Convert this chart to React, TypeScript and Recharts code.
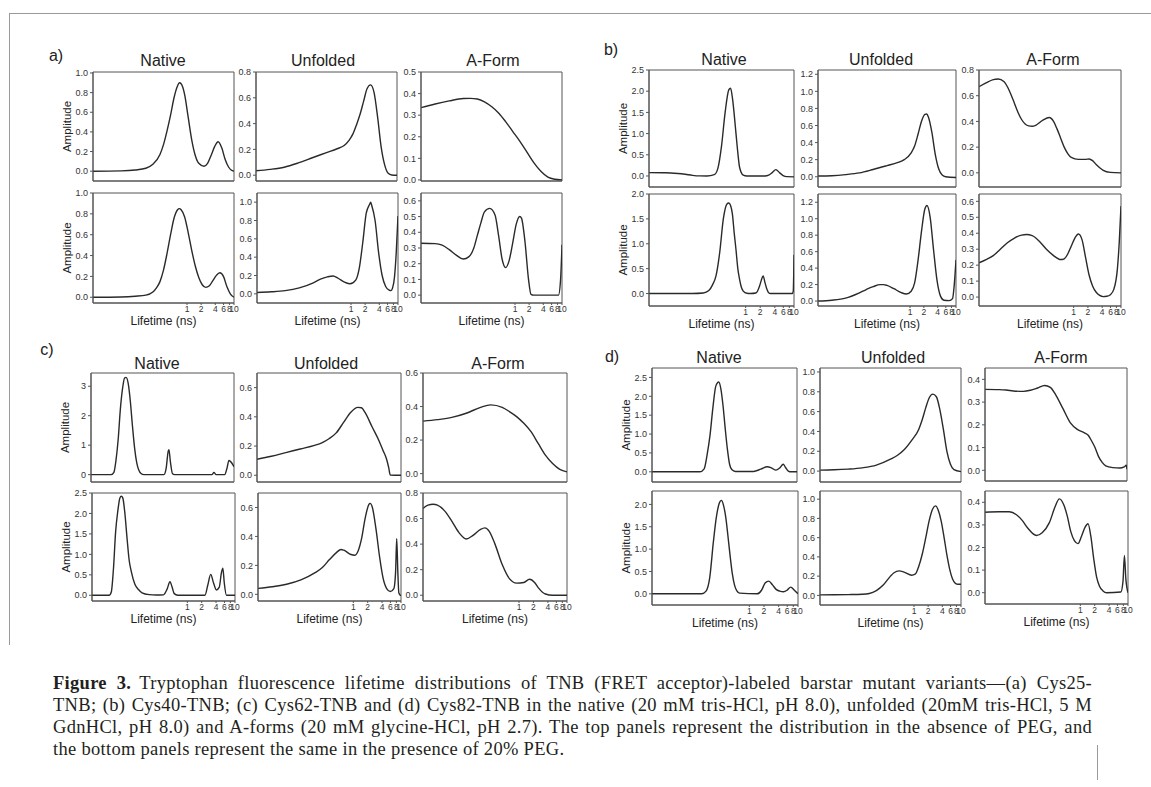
import React from 'react';
import { LineChart, Line, XAxis, YAxis, ReferenceArea, Label } from 'recharts';

type Pt = [number, number]; // [lifetime (ns), amplitude]

// ---- a) Cys25-TNB ----
const aNativeTop: Pt[] = [
  [0.01, 0], [0.0398, 0.003], [0.0794, 0.012], [0.133, 0.03], [0.188, 0.07], [0.266, 0.17],
  [0.316, 0.27], [0.376, 0.41], [0.447, 0.57], [0.531, 0.75], [0.631, 0.87], [0.688, 0.9],
  [0.75, 0.89], [0.891, 0.78], [1.06, 0.55], [1.26, 0.32], [1.5, 0.16], [1.78, 0.08],
  [2.3, 0.05], [2.74, 0.08], [3.25, 0.16], [3.87, 0.25], [4.6, 0.3], [5.46, 0.24],
  [6.49, 0.12], [7.72, 0.04], [9.17, 0.005], [10, 0],
];
const aUnfoldedTop: Pt[] = [
  [0.01, 0.034], [0.02, 0.045], [0.0398, 0.062], [0.0794, 0.095], [0.158, 0.135], [0.316, 0.175],
  [0.531, 0.205], [0.75, 0.23], [0.955, 0.27], [1.155, 0.32], [1.373, 0.39], [1.631, 0.47],
  [1.939, 0.57], [2.304, 0.67], [2.738, 0.7], [3.254, 0.64], [3.868, 0.45], [4.597, 0.22],
  [5.464, 0.08], [6.494, 0.015], [7.718, 0.002], [10, 0],
];
const aAFormTop: Pt[] = [
  [0.01, 0.335], [0.02, 0.352], [0.0398, 0.366], [0.0794, 0.377], [0.112, 0.378], [0.158, 0.375],
  [0.224, 0.362], [0.316, 0.34], [0.447, 0.31], [0.631, 0.27], [0.891, 0.225], [1.26, 0.18],
  [1.78, 0.13], [2.51, 0.08], [3.55, 0.04], [5.01, 0.013], [7.08, 0.003], [10, 0],
];
const aNativeBottom: Pt[] = [
  [0.01, 0], [0.0398, 0.003], [0.0794, 0.01], [0.133, 0.02], [0.188, 0.05], [0.224, 0.09],
  [0.266, 0.15], [0.316, 0.26], [0.376, 0.42], [0.447, 0.6], [0.531, 0.76], [0.631, 0.84],
  [0.688, 0.85], [0.75, 0.84], [0.891, 0.77], [1.06, 0.62], [1.26, 0.45], [1.5, 0.3],
  [1.78, 0.19], [2.11, 0.12], [2.51, 0.095], [2.99, 0.11], [3.55, 0.16], [4.22, 0.21],
  [5.01, 0.235], [5.96, 0.2], [7.08, 0.1], [8.41, 0.03], [10, 0],
];
const aUnfoldedBottom: Pt[] = [
  [0.01, 0.015], [0.02, 0.022], [0.0398, 0.035], [0.0794, 0.065], [0.158, 0.12], [0.224, 0.16],
  [0.316, 0.185], [0.417, 0.195], [0.531, 0.17], [0.75, 0.125], [0.955, 0.11], [1.26, 0.15],
  [1.5, 0.28], [1.78, 0.56], [2.11, 0.88], [2.51, 0.98], [2.62, 1.0], [2.74, 0.97],
  [3.254, 0.8], [3.868, 0.45], [4.597, 0.2], [5.464, 0.08], [6.494, 0.04], [7.08, 0.035],
  [7.718, 0.07], [8.41, 0.18], [9.173, 0.45], [10, 0.85],
];
const aAFormBottom: Pt[] = [
  [0.01, 0.33], [0.02, 0.328], [0.0282, 0.318], [0.0398, 0.29], [0.0562, 0.255], [0.0794, 0.23],
  [0.105, 0.245], [0.133, 0.3], [0.158, 0.38], [0.188, 0.46], [0.224, 0.53], [0.29, 0.552],
  [0.376, 0.51], [0.447, 0.38], [0.531, 0.23], [0.631, 0.175], [0.75, 0.22], [0.891, 0.33],
  [1.06, 0.45], [1.26, 0.5], [1.373, 0.49], [1.631, 0.34], [1.939, 0.1], [2.19, 0.005],
  [2.51, 0], [8.41, 0], [9.33, 0.1], [10, 0.32],
];

// ---- b) Cys40-TNB ----
const bNativeTop: Pt[] = [
  [0.01, 0.078], [0.02, 0.075], [0.0282, 0.072], [0.0398, 0.06], [0.0562, 0.04], [0.0794, 0.015],
  [0.112, 0.002], [0.158, 0], [0.224, 0.03], [0.266, 0.18], [0.316, 0.7], [0.376, 1.5],
  [0.447, 2.03], [0.487, 2.07], [0.531, 1.85], [0.631, 1.0], [0.688, 0.55], [0.75, 0.2],
  [0.891, 0.02], [1.06, 0], [2.51, 0], [2.99, 0.02], [3.55, 0.08], [4.22, 0.15],
  [5.01, 0.08], [5.96, 0.01], [7.08, -0.015], [10, -0.02],
];
const bUnfoldedTop: Pt[] = [
  [0.01, 0.008], [0.02, 0.012], [0.0398, 0.025], [0.0794, 0.045], [0.158, 0.085], [0.316, 0.13],
  [0.531, 0.165], [0.75, 0.2], [1.06, 0.28], [1.26, 0.36], [1.5, 0.5], [1.78, 0.65],
  [2.11, 0.73], [2.3, 0.735], [2.51, 0.7], [2.99, 0.52], [3.55, 0.26], [4.22, 0.09],
  [5.01, 0.02], [5.96, 0], [10, -0.008],
];
const bAFormTop: Pt[] = [
  [0.01, 0.67], [0.0141, 0.7], [0.02, 0.725], [0.0254, 0.73], [0.0335, 0.71], [0.0398, 0.67],
  [0.0473, 0.61], [0.0562, 0.54], [0.0668, 0.47], [0.0794, 0.415], [0.0944, 0.38], [0.112, 0.365],
  [0.133, 0.362], [0.158, 0.37], [0.224, 0.41], [0.305, 0.43], [0.376, 0.4], [0.447, 0.34],
  [0.531, 0.27], [0.631, 0.2], [0.75, 0.15], [0.891, 0.12], [1.26, 0.105], [1.78, 0.105],
  [2.11, 0.108], [2.51, 0.095], [2.99, 0.065], [3.55, 0.04], [4.22, 0.02], [5.96, 0.004], [10, 0],
];
const bNativeBottom: Pt[] = [
  [0.01, 0], [0.0794, 0], [0.133, 0.01], [0.173, 0.06], [0.205, 0.17], [0.244, 0.36],
  [0.29, 0.82], [0.345, 1.5], [0.41, 1.8], [0.447, 1.82], [0.487, 1.77], [0.531, 1.6],
  [0.579, 1.22], [0.631, 0.88], [0.688, 0.5], [0.75, 0.28], [0.818, 0.12], [0.891, 0.05],
  [1.06, 0.005], [1.26, 0], [1.631, 0.01], [1.939, 0.15], [2.11, 0.27], [2.3, 0.355],
  [2.51, 0.22], [2.74, 0.09], [2.99, 0.015], [3.25, 0], [9.17, 0], [9.66, 0.05], [10, 0.78],
];
const bUnfoldedBottom: Pt[] = [
  [0.01, 0], [0.02, 0.01], [0.0398, 0.035], [0.0794, 0.1], [0.112, 0.14], [0.158, 0.175],
  [0.224, 0.2], [0.266, 0.2], [0.316, 0.19], [0.447, 0.15], [0.631, 0.105], [0.832, 0.085],
  [1.06, 0.12], [1.26, 0.22], [1.5, 0.5], [1.78, 0.85], [2.11, 1.12], [2.34, 1.16],
  [2.738, 1.02], [3.254, 0.62], [3.868, 0.25], [4.597, 0.06], [5.464, 0.01], [7.08, 0.005],
  [8.41, 0.03], [9.173, 0.2], [10, 0.5],
];
const bAFormBottom: Pt[] = [
  [0.01, 0.215], [0.0141, 0.235], [0.02, 0.26], [0.0282, 0.3], [0.0398, 0.34], [0.0562, 0.37],
  [0.0794, 0.388], [0.101, 0.392], [0.133, 0.385], [0.188, 0.35], [0.266, 0.3], [0.376, 0.26],
  [0.531, 0.235], [0.631, 0.24], [0.75, 0.27], [0.891, 0.32], [1.06, 0.37], [1.26, 0.395],
  [1.5, 0.36], [1.78, 0.25], [2.11, 0.14], [2.51, 0.07], [2.99, 0.03], [3.55, 0.01],
  [4.22, 0.003], [5.01, 0.005], [5.96, 0.015], [7.08, 0.05], [8.41, 0.18], [9.173, 0.34], [10, 0.57],
];

// ---- c) Cys62-TNB ----
const cNativeTop: Pt[] = [
  [0.01, 0], [0.0263, 0], [0.0302, 0.08], [0.0335, 0.5], [0.0372, 1.2], [0.0412, 2.2],
  [0.0457, 2.9], [0.0507, 3.28], [0.0543, 3.3], [0.0603, 3.1], [0.0668, 2.5], [0.0741, 1.65],
  [0.0822, 0.9], [0.0912, 0.4], [0.101, 0.15], [0.112, 0.04], [0.129, 0], [0.339, 0],
  [0.376, 0.2], [0.417, 0.8], [0.432, 0.85], [0.462, 0.45], [0.513, 0.03], [0.569, 0],
  [3.43, 0], [3.8, 0.07], [4.22, 0], [6.38, 0], [7.08, 0.2], [7.85, 0.48], [8.41, 0.45], [10, 0.27],
];
const cUnfoldedTop: Pt[] = [
  [0.01, 0.11], [0.02, 0.13], [0.0398, 0.155], [0.0794, 0.18], [0.158, 0.205], [0.224, 0.222],
  [0.316, 0.25], [0.447, 0.29], [0.631, 0.36], [0.891, 0.43], [1.26, 0.465], [1.5, 0.462],
  [1.78, 0.43], [2.51, 0.33], [3.55, 0.23], [4.22, 0.17], [5.01, 0.11], [5.56, 0.05],
  [5.96, 0.002], [10, 0],
];
const cAFormTop: Pt[] = [
  [0.01, 0.313], [0.02, 0.322], [0.0398, 0.335], [0.0794, 0.36], [0.158, 0.395], [0.257, 0.41],
  [0.447, 0.395], [0.631, 0.37], [0.891, 0.34], [1.26, 0.3], [1.78, 0.25], [2.51, 0.18],
  [3.55, 0.11], [5.01, 0.06], [7.08, 0.025], [10, 0.01],
];
const cNativeBottom: Pt[] = [
  [0.01, 0], [0.0229, 0], [0.0254, 0.08], [0.0282, 0.65], [0.0313, 1.55], [0.0347, 2.05],
  [0.0385, 2.38], [0.0412, 2.42], [0.0442, 2.38], [0.049, 2.0], [0.0543, 1.4], [0.0603, 0.85],
  [0.0668, 0.58], [0.0794, 0.27], [0.0944, 0.14], [0.112, 0.06], [0.158, 0.015], [0.224, 0.005],
  [0.316, 0.01], [0.376, 0.15], [0.432, 0.33], [0.479, 0.2], [0.531, 0.04], [0.631, 0],
  [2.34, 0], [2.69, 0.25], [3.09, 0.51], [3.55, 0.3], [4.07, 0.13], [4.68, 0.2], [5.19, 0.55],
  [5.56, 0.66], [5.96, 0.3], [6.61, 0], [10, 0],
];
const cUnfoldedBottom: Pt[] = [
  [0.01, 0.041], [0.02, 0.052], [0.0398, 0.07], [0.0794, 0.1], [0.158, 0.15], [0.224, 0.185],
  [0.316, 0.24], [0.447, 0.29], [0.55, 0.31], [0.631, 0.305], [0.891, 0.275], [1.06, 0.27],
  [1.26, 0.3], [1.5, 0.39], [1.78, 0.53], [2.11, 0.62], [2.26, 0.628], [2.51, 0.6],
  [2.99, 0.45], [3.55, 0.26], [4.22, 0.11], [5.01, 0.04], [5.96, 0.02], [7.08, 0.04],
  [7.69, 0.15], [8.13, 0.385], [8.59, 0.15], [9.02, 0.01], [10, -0.01],
];
const cAFormBottom: Pt[] = [
  [0.01, 0.68], [0.0127, 0.705], [0.0162, 0.712], [0.02, 0.705], [0.0282, 0.66], [0.0398, 0.58],
  [0.0562, 0.49], [0.0794, 0.44], [0.112, 0.47], [0.158, 0.515], [0.195, 0.527], [0.24, 0.5],
  [0.316, 0.4], [0.447, 0.24], [0.631, 0.13], [0.891, 0.095], [1.26, 0.1], [1.66, 0.125],
  [2.11, 0.1], [2.51, 0.06], [3.55, 0.01], [5.01, 0], [10, 0],
];

// ---- d) Cys82-TNB ----
const dNativeTop: Pt[] = [
  [0.01, 0], [0.0977, 0], [0.12, 0.08], [0.138, 0.45], [0.158, 0.95], [0.182, 1.7],
  [0.209, 2.27], [0.24, 2.38], [0.266, 2.2], [0.295, 1.75], [0.327, 1.15], [0.363, 0.6],
  [0.403, 0.2], [0.447, 0.06], [0.531, 0.01], [1.26, 0.01], [1.78, 0.07], [2.43, 0.134],
  [2.99, 0.1], [3.67, 0.045], [4.37, 0.1], [5.19, 0.2], [5.75, 0.12], [6.61, 0.02],
  [7.59, 0], [10, 0],
];
const dUnfoldedTop: Pt[] = [
  [0.01, 0.01], [0.02, 0.013], [0.0398, 0.02], [0.0794, 0.033], [0.158, 0.06], [0.316, 0.12],
  [0.447, 0.16], [0.631, 0.22], [0.891, 0.31], [1.26, 0.42], [1.5, 0.52], [1.78, 0.64],
  [2.11, 0.74], [2.51, 0.776], [2.99, 0.75], [3.55, 0.62], [4.22, 0.42], [5.01, 0.2],
  [5.96, 0.07], [7.08, 0.015], [10, -0.005],
];
const dAFormTop: Pt[] = [
  [0.01, 0.356], [0.02, 0.355], [0.0282, 0.353], [0.0398, 0.349], [0.0646, 0.347], [0.0912, 0.352],
  [0.129, 0.362], [0.182, 0.373], [0.24, 0.365], [0.316, 0.33], [0.447, 0.27], [0.631, 0.21],
  [0.891, 0.18], [1.26, 0.165], [1.5, 0.155], [1.78, 0.13], [2.11, 0.1], [2.51, 0.06],
  [2.99, 0.035], [3.55, 0.02], [5.01, 0.012], [7.08, 0.01], [8.71, 0.015], [9.66, 0.022], [10, 0.005],
];
const dNativeBottom: Pt[] = [
  [0.01, 0], [0.105, 0], [0.129, 0.06], [0.153, 0.35], [0.182, 1.15], [0.209, 1.7],
  [0.24, 2.02], [0.266, 2.09], [0.295, 1.98], [0.327, 1.72], [0.363, 1.3], [0.403, 0.85],
  [0.447, 0.45], [0.495, 0.2], [0.55, 0.07], [0.631, 0.015], [1.45, 0], [1.78, 0.08],
  [2.11, 0.24], [2.51, 0.285], [2.99, 0.2], [3.55, 0.1], [4.22, 0.06], [5.01, 0.045],
  [5.96, 0.08], [7.08, 0.15], [8.41, 0.08], [10, 0],
];
const dUnfoldedBottom: Pt[] = [
  [0.01, 0.005], [0.02, 0.006], [0.0398, 0.008], [0.0794, 0.012], [0.112, 0.02], [0.158, 0.05],
  [0.224, 0.11], [0.316, 0.2], [0.376, 0.235], [0.479, 0.255], [0.631, 0.24], [0.891, 0.21],
  [1.06, 0.22], [1.26, 0.3], [1.5, 0.43], [1.78, 0.6], [2.11, 0.78], [2.51, 0.9],
  [2.88, 0.93], [3.31, 0.88], [3.8, 0.77], [4.37, 0.6], [5.01, 0.42], [5.75, 0.27],
  [6.61, 0.17], [7.59, 0.125], [8.71, 0.115], [10, 0.115],
];
const dAFormBottom: Pt[] = [
  [0.01, 0.356], [0.02, 0.358], [0.0324, 0.358], [0.0457, 0.345], [0.0603, 0.32], [0.0794, 0.285],
  [0.12, 0.253], [0.158, 0.265], [0.224, 0.31], [0.295, 0.38], [0.363, 0.415], [0.447, 0.39],
  [0.531, 0.34], [0.631, 0.27], [0.75, 0.23], [0.891, 0.217], [1.06, 0.25], [1.26, 0.29],
  [1.45, 0.305], [1.66, 0.25], [1.91, 0.15], [2.19, 0.07], [2.51, 0.03], [2.99, 0.008],
  [3.55, 0], [7.08, 0.003], [7.85, 0.05], [8.41, 0.165], [9.02, 0.06], [10, 0],
];

// axis ticks
const lifetimeTicks = [1, 2, 4, 6, 8, 10];
const lifetimeDomain: [number, number] = [0.01, 10];
const t1by02 = [0, 0.2, 0.4, 0.6, 0.8, 1.0];
const t08by02 = [0, 0.2, 0.4, 0.6, 0.8];
const t12by02 = [0, 0.2, 0.4, 0.6, 0.8, 1.0, 1.2];
const t06by02 = [0, 0.2, 0.4, 0.6];
const t05by01 = [0, 0.1, 0.2, 0.3, 0.4, 0.5];
const t06by01 = [0, 0.1, 0.2, 0.3, 0.4, 0.5, 0.6];
const t04by01 = [0, 0.1, 0.2, 0.3, 0.4];
const t25by05 = [0, 0.5, 1.0, 1.5, 2.0, 2.5];
const t20by05 = [0, 0.5, 1.0, 1.5, 2.0];
const t3by1 = [0, 1, 2, 3];

const panelTitles = ['Native', 'Unfolded', 'A-Form'];

interface PanelSpec {
  data: Pt[];
  y: [number, number];
  ticks: number[];
  digits: number;
  box: [number, number, number, number]; // left, top, width, height of plot frame
  bottom: boolean;
  amp: boolean;
}

const panels: PanelSpec[] = [
  // a
  { data: aNativeTop, y: [-0.1, 1.01], ticks: t1by02, digits: 1, box: [93, 72, 141, 109], bottom: false, amp: true },
  { data: aUnfoldedTop, y: [-0.045, 0.8], ticks: t08by02, digits: 1, box: [256, 72, 141, 109], bottom: false, amp: false },
  { data: aAFormTop, y: [-0.005, 0.5], ticks: t05by01, digits: 1, box: [421, 72, 141, 109], bottom: false, amp: false },
  { data: aNativeBottom, y: [-0.055, 1.0], ticks: t1by02, digits: 1, box: [93, 193, 141, 110], bottom: true, amp: true },
  { data: aUnfoldedBottom, y: [-0.1, 1.1], ticks: t1by02, digits: 1, box: [257, 193, 141, 110], bottom: true, amp: false },
  { data: aAFormBottom, y: [-0.05, 0.65], ticks: t06by01, digits: 1, box: [421, 193, 141, 110], bottom: true, amp: false },
  // b
  { data: bNativeTop, y: [-0.26, 2.5], ticks: t25by05, digits: 1, box: [649, 70, 145, 117], bottom: false, amp: true },
  { data: bUnfoldedTop, y: [-0.12, 1.25], ticks: t12by02, digits: 1, box: [818, 70, 138, 117], bottom: false, amp: false },
  { data: bAFormTop, y: [-0.11, 0.8], ticks: t08by02, digits: 1, box: [979, 70, 142, 117], bottom: false, amp: false },
  { data: bNativeBottom, y: [-0.25, 2.0], ticks: t20by05, digits: 1, box: [649, 194, 145, 112], bottom: true, amp: true },
  { data: bUnfoldedBottom, y: [-0.06, 1.3], ticks: t12by02, digits: 1, box: [818, 194, 138, 112], bottom: true, amp: false },
  { data: bAFormBottom, y: [-0.056, 0.646], ticks: t06by01, digits: 1, box: [979, 194, 142, 112], bottom: true, amp: false },
  // c
  { data: cNativeTop, y: [-0.25, 3.45], ticks: t3by1, digits: 0, box: [91, 373, 143, 109], bottom: false, amp: true },
  { data: cUnfoldedTop, y: [-0.046, 0.7], ticks: t06by02, digits: 1, box: [257, 373, 144, 109], bottom: false, amp: false },
  { data: cAFormTop, y: [-0.05, 0.6], ticks: t06by02, digits: 1, box: [423, 373, 144, 109], bottom: false, amp: false },
  { data: cNativeBottom, y: [-0.14, 2.5], ticks: t25by05, digits: 1, box: [92, 493, 143, 108], bottom: true, amp: true },
  { data: cUnfoldedBottom, y: [-0.046, 0.7], ticks: t06by02, digits: 1, box: [258, 493, 143, 108], bottom: true, amp: false },
  { data: cAFormBottom, y: [-0.045, 0.8], ticks: t08by02, digits: 1, box: [423, 493, 144, 108], bottom: true, amp: false },
  // d
  { data: dNativeTop, y: [-0.27, 2.75], ticks: t25by05, digits: 1, box: [652, 368, 145, 114], bottom: false, amp: true },
  { data: dUnfoldedTop, y: [-0.11, 1.04], ticks: t1by02, digits: 1, box: [820, 368, 141, 114], bottom: false, amp: false },
  { data: dAFormTop, y: [-0.047, 0.45], ticks: t04by01, digits: 1, box: [985, 368, 142, 113], bottom: false, amp: false },
  { data: dNativeBottom, y: [-0.25, 2.3], ticks: t20by05, digits: 1, box: [652, 491, 146, 114], bottom: true, amp: true },
  { data: dUnfoldedBottom, y: [-0.1, 1.085], ticks: t1by02, digits: 1, box: [820, 491, 141, 114], bottom: true, amp: false },
  { data: dAFormBottom, y: [-0.05, 0.45], ticks: t04by01, digits: 1, box: [985, 491, 143, 113], bottom: true, amp: false },
];

// title centres per group: [x of Native, Unfolded, A-Form], y
const titleRows: { xs: number[]; y: number }[] = [
  { xs: [163, 323, 493], y: 61 },
  { xs: [724, 881, 1053], y: 60 },
  { xs: [157, 326, 498], y: 364 },
  { xs: [719, 893, 1061], y: 358 },
];
const groupLabels: { text: string; x: number; y: number }[] = [
  { text: 'a)', x: 56, y: 56 },
  { text: 'b)', x: 611, y: 50 },
  { text: 'c)', x: 47, y: 350 },
  { text: 'd)', x: 612, y: 357 },
];

const SANS = '"Liberation Sans", Arial, Helvetica, sans-serif';
const YW = 34;
const PAD_T = 7;
const PAD_R = 9;
const AXIS = '#555';

function Panel({ spec }: { spec: PanelSpec }) {
  const [left, top, w, h] = spec.box;
  const rows = spec.data.map(([t, a]) => ({ t, a }));
  const xh = spec.bottom ? 28 : 6;
  return (
    <div style={{ position: 'absolute', left: left - YW, top: top - PAD_T }}>
      <LineChart
        width={YW + w + PAD_R}
        height={PAD_T + h + xh}
        data={rows}
        margin={{ top: PAD_T, right: PAD_R, left: 0, bottom: 0 }}
      >
        <XAxis
          dataKey="t"
          type="number"
          scale="log"
          domain={lifetimeDomain}
          allowDataOverflow
          ticks={lifetimeTicks}
          interval={0}
          height={xh}
          stroke={AXIS}
          tickSize={2}
          tickMargin={1}
          tick={spec.bottom ? { fontSize: 8.5, fill: '#333' } : false}
        >
          {spec.bottom && (
            <Label value="Lifetime (ns)" position="insideBottom" offset={6} fontSize={12} fill="#222" />
          )}
        </XAxis>
        <YAxis
          type="number"
          domain={spec.y}
          allowDataOverflow
          ticks={spec.ticks}
          interval={0}
          width={YW}
          stroke={AXIS}
          tickSize={3}
          tickMargin={2}
          tick={{ fontSize: 9, fill: '#333' }}
          tickFormatter={(v: number) => v.toFixed(spec.digits)}
        >
          {spec.amp && (
            <Label
              value="Amplitude"
              angle={-90}
              position="insideLeft"
              offset={8}
              fontSize={11.5}
              fill="#222"
              style={{ textAnchor: 'middle' }}
            />
          )}
        </YAxis>
        <ReferenceArea
          x1={lifetimeDomain[0]}
          x2={lifetimeDomain[1]}
          y1={spec.y[0]}
          y2={spec.y[1]}
          fill="none"
          stroke={AXIS}
          strokeWidth={1}
          fillOpacity={0}
        />
        <Line
          dataKey="a"
          type="monotone"
          dot={false}
          activeDot={false}
          stroke="#2a2a2a"
          strokeWidth={1.4}
          isAnimationActive={false}
        />
      </LineChart>
    </div>
  );
}

const captionLines = [
  'Tryptophan fluorescence lifetime distributions of TNB (FRET acceptor)-labeled barstar mutant variants—(a) Cys25-',
  'TNB; (b) Cys40-TNB; (c) Cys62-TNB and (d) Cys82-TNB in the native (20 mM tris-HCl, pH 8.0), unfolded (20mM tris-HCl, 5 M',
  'GdnHCl, pH 8.0) and A-forms (20 mM glycine-HCl, pH 2.7). The top panels represent the distribution in the absence of PEG, and',
  'the bottom panels represent the same in the presence of 20% PEG.',
];

export default function App() {
  return (
    <div
      style={{
        position: 'absolute',
        left: 0,
        top: 0,
        width: 1151,
        height: 787,
        background: '#fff',
        overflow: 'hidden',
        fontFamily: SANS,
        color: '#222',
      }}
    >
      {/* figure frame rules */}
      <div style={{ position: 'absolute', left: 9, top: 13, width: 1142, height: 1, background: '#9a9a9a' }} />
      <div style={{ position: 'absolute', left: 9, top: 13, width: 1, height: 632, background: '#9a9a9a' }} />
      <div style={{ position: 'absolute', left: 1097, top: 745, width: 1, height: 35, background: '#9a9a9a' }} />

      {groupLabels.map((g) => (
        <div
          key={g.text}
          style={{ position: 'absolute', left: g.x, top: g.y, transform: 'translate(-50%, -50%)', fontSize: 16, lineHeight: 1 }}
        >
          {g.text}
        </div>
      ))}

      {titleRows.map((row, r) =>
        row.xs.map((x, i) => (
          <div
            key={`${r}-${i}`}
            style={{
              position: 'absolute',
              left: x,
              top: row.y,
              transform: 'translate(-50%, -50%)',
              fontSize: 16,
              lineHeight: 1,
              whiteSpace: 'nowrap',
            }}
          >
            {panelTitles[i]}
          </div>
        ))
      )}

      {panels.map((p, i) => (
        <Panel key={i} spec={p} />
      ))}

      <div
        style={{
          position: 'absolute',
          left: 53,
          top: 672,
          width: 1039,
          fontFamily: '"Liberation Serif", "Times New Roman", serif',
          fontSize: 18.5,
          letterSpacing: 0.3,
          lineHeight: '22px',
          color: '#231f20',
        }}
      >
        {captionLines.map((line, i) => (
          <div
            key={i}
            style={{
              textAlign: 'justify',
              textAlignLast: i < captionLines.length - 1 ? 'justify' : 'left',
              whiteSpace: 'nowrap',
            }}
          >
            {i === 0 && <b style={{ marginRight: 8 }}>Figure 3.</b>}
            {line}
          </div>
        ))}
      </div>
    </div>
  );
}
